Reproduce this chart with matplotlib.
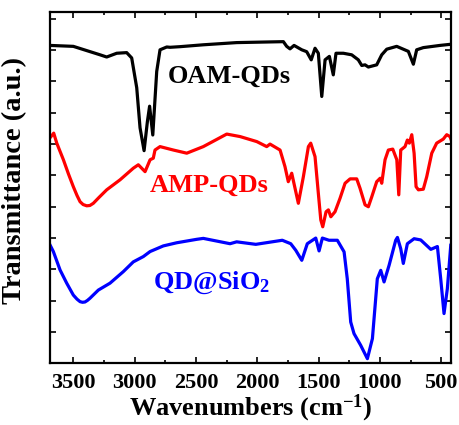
import numpy as np
import matplotlib
matplotlib.use("Agg")
import matplotlib.pyplot as plt
from matplotlib.ticker import MultipleLocator

plt.rcParams['font.family'] = ['Liberation Serif', 'DejaVu Serif']
plt.rcParams['font.weight'] = 'bold'
plt.rcParams['axes.labelweight'] = 'bold'
plt.rcParams['mathtext.fontset'] = 'custom'
plt.rcParams['mathtext.rm'] = 'Liberation Serif:bold'
plt.rcParams['mathtext.bf'] = 'Liberation Serif:bold'
plt.rcParams['mathtext.default'] = 'bf'

# OAM-QDs (black)
oam_wn = [3690, 3500, 3282, 3228, 3146, 3065, 3024, 2983, 2956, 2923, 2896, 2878, 2852,
          2820, 2793, 2738, 2711, 2630, 2440, 2168, 1787, 1760, 1733, 1700, 1637, 1597,
          1560, 1529, 1502, 1474, 1447, 1412, 1380, 1358, 1298, 1230, 1176, 1148, 1121,
          1094, 1026, 985, 944, 863, 768, 727, 700, 646, 510, 414]
oam_t = [10.15, 10.12, 9.85, 9.78, 9.90, 9.92, 9.75, 8.80, 7.52, 6.79, 7.72, 8.21, 7.29,
         9.32, 10.01, 10.10, 10.09, 10.11, 10.17, 10.24, 10.27, 10.12, 10.04, 10.15, 10.01, 9.95,
         9.69, 10.06, 9.90, 8.52, 9.69, 9.80, 9.21, 9.90, 9.90, 9.85, 9.69, 9.51, 9.53,
         9.46, 9.53, 9.85, 10.03, 10.12, 9.96, 9.55, 10.01, 10.08, 10.15, 10.19]

# AMP-QDs (red)
amp_wn = [3682, 3660, 3635, 3581, 3540, 3500, 3470, 3445, 3420, 3391, 3365, 3337, 3290, 3228,
          3119, 3011, 2970, 2915,
          2874, 2848, 2834, 2793, 2684, 2575, 2440, 2249, 2140, 2004, 1923, 1896, 1814,
          1774, 1747, 1719, 1665, 1624, 1583, 1564, 1529, 1502, 1482, 1466, 1439, 1420,
          1400, 1366, 1325, 1284, 1243, 1189, 1162, 1121, 1094, 1066, 1026, 998, 985,
          958, 931, 895, 862, 846, 830, 795, 776, 760, 740, 721, 705, 686, 646, 618,
          577, 537, 483, 455, 428, 409]
amp_t = [7.24, 7.35, 7.03, 6.50, 6.05, 5.64, 5.36, 5.16, 5.07, 5.03, 5.04, 5.11, 5.30, 5.54,
         5.86, 6.23, 6.34, 6.12,
         6.50, 6.55, 6.81, 6.92, 6.81, 6.71, 6.92, 7.32, 7.24, 7.08, 6.92, 7.00, 6.81,
         6.28, 5.80, 6.07, 5.11, 5.96, 6.92, 7.03, 6.60, 5.43, 4.58, 4.36, 4.84, 4.90,
         4.68, 4.84, 5.27, 5.75, 5.89, 5.89, 5.59, 5.06, 5.00, 5.32, 5.80, 5.91, 5.75,
         6.50, 6.81, 6.84, 6.50, 5.38, 6.81, 6.92, 7.13, 7.03, 7.30, 6.71, 5.64, 5.54, 5.56, 5.96,
         6.71, 7.03, 7.16, 7.30, 7.24, 7.03]

# QD@SiO2 (blue)
sio2_wn = [3690, 3663, 3608, 3554, 3500, 3470, 3445, 3425, 3405, 3385, 3364, 3296, 3201, 3092,
           3011, 2929,
           2874, 2766, 2657, 2494, 2440, 2222, 2168, 2012, 1796, 1727, 1686, 1637, 1592,
           1523, 1496, 1469, 1415, 1347, 1292, 1266, 1238, 1211, 1157, 1102, 1061, 1021,
           993, 966, 925, 871, 857, 830, 809, 776, 721, 667, 585, 531, 504, 477, 450, 422]
sio2_t = [3.78, 3.57, 2.98, 2.56, 2.18, 2.05, 1.97, 1.95, 1.96, 2.01, 2.08, 2.34, 2.56, 2.93,
          3.24, 3.41,
          3.57, 3.75, 3.85, 3.96, 3.99, 3.82, 3.88, 3.80, 3.93, 3.82, 3.61, 3.29, 3.82,
          4.00, 3.59, 4.00, 3.93, 3.93, 3.56, 2.70, 1.32, 0.95, 0.58, 0.15, 0.79, 2.70,
          2.97, 2.60, 3.13, 3.93, 4.02, 3.66, 3.19, 3.82, 3.98, 3.94, 3.64, 3.73, 2.70, 1.59, 2.38, 3.77]

fig = plt.figure(figsize=(4.59, 4.25), dpi=100)
ax = fig.add_axes([0.109, 0.145, 0.8736, 0.827])

ax.plot(oam_wn, oam_t, color='black', lw=2.3)
ax.plot(amp_wn, amp_t, color='#ff0000', lw=2.3)
ax.plot(sio2_wn, sio2_t, color='#0000ff', lw=2.3)

ax.set_xlim(3690, 420)
ax.set_ylim(0, 11.22)
ax.xaxis.set_major_locator(MultipleLocator(500))
ax.xaxis.set_minor_locator(MultipleLocator(250))
ax.yaxis.set_major_locator(MultipleLocator(1))
ax.set_yticklabels([])
ax.tick_params(which='both', direction='in', top=True, right=True, width=1.2)
ax.tick_params(which='major', length=4, labelsize=16, pad=7)
ax.tick_params(which='minor', length=2.5)
for s in ax.spines.values():
    s.set_linewidth(1.6)

ax.text(2728, 9.15, 'OAM-QDs', color='black', fontsize=19, va='center')
ax.text(2874, 5.70, 'AMP-QDs', color='#ff0000', fontsize=19, va='center')
ax.text(2850, 2.57, 'QD@SiO$_{2}$', color='#0000ff', fontsize=19, va='center')

ax.set_xlabel('Wavenumbers (cm$^{-1}$)', fontsize=19, labelpad=0)
ax.set_ylabel('Transmittance (a.u.)', fontsize=20.5, labelpad=1)
ax.yaxis.set_label_coords(-0.058, 0.52)

fig.savefig('out.png', dpi=100)
